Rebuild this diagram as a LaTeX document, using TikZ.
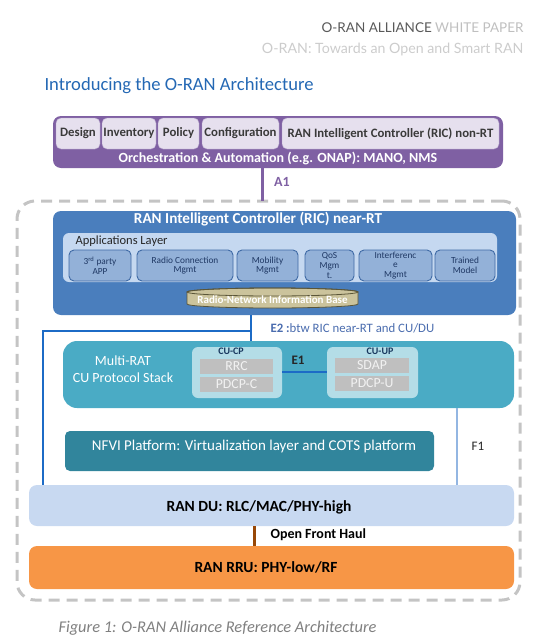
\documentclass[tikz,border=0pt]{standalone}
\usepackage{fontspec}
\setmainfont{Carlito}
\newfontfamily\hdrfont{Lato}

\definecolor{orchpurple}{HTML}{7F60A3}
\definecolor{orchlight}{HTML}{E6E0EE}
\definecolor{darktext}{HTML}{3A3A3A}
\definecolor{ricblue}{HTML}{4A7EBD}
\definecolor{applayer}{HTML}{C5D8F0}
\definecolor{appfill}{HTML}{93B1D8}
\definecolor{appedge}{HTML}{3F6AA5}
\definecolor{apptext}{HTML}{1F3864}
\definecolor{dbfill}{HTML}{CBC39C}
\definecolor{dbedge}{HTML}{5A5538}
\definecolor{e2blue}{HTML}{1C6BC6}
\definecolor{e2text}{HTML}{4A6CAE}
\definecolor{cuteal}{HTML}{4AABC5}
\definecolor{culight}{HTML}{B4DDE7}
\definecolor{cugray}{HTML}{BFBFBF}
\definecolor{cutext}{HTML}{17375E}
\definecolor{nfviteal}{HTML}{31859C}
\definecolor{f1blue}{HTML}{93B6E2}
\definecolor{dufill}{HTML}{C8D9F1}
\definecolor{fhbrown}{HTML}{984807}
\definecolor{rruorange}{HTML}{F79646}
\definecolor{dashgray}{HTML}{C4C4C4}
\definecolor{titleblue}{HTML}{2468B4}
\definecolor{capgray}{HTML}{7F7F7F}

\begin{document}
\begin{tikzpicture}[x=1pt,y=1pt,
    box/.style={anchor=north west, inner sep=0pt, outer sep=0pt, align=center},
    orchbox/.style={box, fill=orchlight, draw=orchpurple!60, rounded corners=5pt,
        minimum height=31pt, text=darktext, font=\fontsize{12.8}{14}\selectfont\bfseries},
    appbox/.style={box, fill=appfill, draw=appedge, line width=0.9pt, rounded corners=5pt,
        minimum height=31pt, text=apptext, font=\fontsize{9.3}{9.6}\selectfont},
    graybox/.style={box, fill=cugray, minimum height=15pt, text=white!95!black,
        font=\fontsize{13.8}{15}\selectfont},
    bigtext/.style={font=\fontsize{15.5}{17}\selectfont\bfseries}]
    \useasboundingbox (0,0) rectangle (538,-640);

    % Header
    \node[anchor=east, font=\hdrfont\fontsize{13.5}{15}\selectfont] (hdra) at (527,-28)
        {\textcolor{black!65}{O-RAN ALLIANCE} \textcolor{black!25}{WHITE PAPER}};
    \node[anchor=east, font=\hdrfont\fontsize{14.2}{16}\selectfont, text=black!20] (hdrb) at (527,-49)
        {O-RAN: Towards an Open and Smart RAN};
    \node[anchor=west, font=\fontsize{18.6}{20}\selectfont, text=titleblue] (title) at (41,-86)
        {Introducing the O-RAN Architecture};

    % Orchestration
    \node[box, fill=orchpurple, rounded corners=8pt, minimum width=450pt, minimum height=52pt] (orch) at (53,-116) {};
    \node[orchbox, minimum width=44pt] (design) at (56,-118) {Design};
    \node[orchbox, minimum width=54pt] (inventory) at (102,-118) {Inventory};
    \node[orchbox, minimum width=41pt] (policy) at (158,-118) {Policy};
    \node[orchbox, minimum width=77pt] (config) at (202,-118) {Configuration};
    \node[orchbox, minimum width=217pt] (ricnonrt) at (282,-118) {RAN Intelligent Controller (RIC) non-RT};
    \node[text=white, font=\fontsize{14}{16}\selectfont\bfseries] (orchlbl) at (278,-158)
        {Orchestration \& Automation (e.g. ONAP): MANO, NMS};

    % Dashed frame
    \node[box, draw=dashgray, line width=3pt, dash pattern=on 11pt off 7pt, rounded corners=18pt,
        minimum width=503pt, minimum height=399pt] (frame) at (17,-201) {};

    % A1
    \draw[orchpurple, line width=3pt] (orch.south -| 262,0) -- (frame.north -| 262,0);
    \node[text=orchpurple, font=\fontsize{14}{16}\selectfont\bfseries] (a1lbl) at (282,-182) {A1};

    % RIC near-RT
    \node[box, fill=ricblue, rounded corners=8pt, minimum width=463pt, minimum height=104pt] (ric) at (53,-211) {};
    \node[text=white, font=\fontsize{15.2}{17}\selectfont\bfseries] (riclbl) at (258,-219) {RAN Intelligent Controller (RIC) near-RT};
    \node[box, fill=applayer, rounded corners=6pt, minimum width=434pt, minimum height=49pt] (applayer) at (63,-233) {};
    \node[anchor=west, text=black!85, font=\fontsize{12.5}{14}\selectfont] (appslbl) at (72,-241) {Applications Layer};
    \node[appbox, minimum width=62pt] (app3rd) at (69,-250) {3\textsuperscript{rd} party\\APP};
    \node[appbox, minimum width=96pt] (appradio) at (137,-250) {Radio Connection\\Mgmt};
    \node[appbox, minimum width=61pt] (appmob) at (237,-250) {Mobility\\Mgmt};
    \node[appbox, minimum width=49pt] (appqos) at (305,-250) {QoS\\Mgm\\t.};
    \node[appbox, minimum width=73pt] (appinter) at (359,-250) {Interferenc\\e\\Mgmt};
    \node[appbox, minimum width=60pt] (apptrain) at (435,-250) {Trained\\Model};

    % Radio-Network Information Base
    \filldraw[fill=dbfill, draw=dbedge, line width=0.8pt] (187,-292) -- (187,-304)
        arc[start angle=180, end angle=360, x radius=85.5pt, y radius=4pt] -- (358,-292)
        arc[start angle=0, end angle=180, x radius=85.5pt, y radius=4pt] -- cycle;
    \draw[dbedge, line width=0.8pt] (272.5,-292) ellipse [x radius=85.5pt, y radius=4pt];
    \node[text=white, font=\fontsize{11}{12}\selectfont\bfseries] (rnib) at (272.5,-300) {Radio-Network Information Base};

    % CU
    \node[box, fill=cuteal, rounded corners=14pt, minimum width=451pt, minimum height=67pt] (cu) at (63,-341) {};
    \node[text=white, font=\fontsize{14}{16.5}\selectfont, align=center] (culbl) at (123,-369) {Multi-RAT\\CU Protocol Stack};
    \node[box, fill=culight, rounded corners=6pt, minimum width=90pt, minimum height=51pt] (cucp) at (192,-347) {};
    \node[box, fill=culight, rounded corners=6pt, minimum width=91pt, minimum height=51pt] (cuup) at (327,-347) {};
    \node[text=cutext, font=\fontsize{10}{12}\selectfont\bfseries] (cucplbl) at (231,-351) {CU-CP};
    \node[text=cutext, font=\fontsize{10}{12}\selectfont\bfseries] (cuuplbl) at (380,-351) {CU-UP};
    \node[graybox, minimum width=73pt] (rrc) at (200,-359) {RRC};
    \node[graybox, minimum width=73pt] (pdcpc) at (200,-377) {PDCP-C};
    \node[graybox, minimum width=74pt] (sdap) at (335,-358) {SDAP};
    \node[graybox, minimum width=74pt] (pdcpu) at (335,-376) {PDCP-U};
    \draw[e2blue, line width=2.5pt] (cucp.east |- 0,-372) -- (cuup.west |- 0,-372);
    \node[text=black!85, font=\fontsize{13}{15}\selectfont\bfseries] (e1lbl) at (298,-360) {E1};

    % E2
    \coordinate (e2j) at (251,-331);
    \draw[e2blue, line width=2.8pt] (ric.south -| e2j) -- (cu.north -| e2j);
    \node[anchor=west, text=e2text, font=\fontsize{12.8}{14}\selectfont] (e2lbl) at (267,-328)
        {\textbf{E2 :}btw RIC near-RT and CU/DU};

    % NFVI
    \node[box, fill=nfviteal, rounded corners=5pt, minimum width=369pt, minimum height=40pt] (nfvi) at (65,-431) {};
    \node[text=white, font=\fontsize{15}{17}\selectfont] (nfvilbl) at (254,-446)
        {NFVI Platform: Virtualization layer and COTS platform};

    % DU / RRU
    \node[box, fill=dufill, rounded corners=8pt, minimum width=485pt, minimum height=41pt] (du) at (29,-485) {};
    \node[bigtext] (dulbl) at (259,-507) {RAN DU: RLC/MAC/PHY-high};
    \node[box, fill=rruorange, rounded corners=8pt, minimum width=485pt, minimum height=43pt] (rru) at (29,-546) {};
    \node[bigtext] (rrulbl) at (266,-567) {RAN RRU: PHY-low/RF};

    % Interfaces to DU
    \draw[e2blue, line width=2.8pt] (e2j) -| (du.north -| 43,0);
    \draw[f1blue, line width=2.5pt] (cu.south -| 457,0) -- (du.north -| 457,0);
    \node[text=black!85, font=\fontsize{13}{15}\selectfont] (f1lbl) at (478,-446) {F1};
    \draw[fhbrown, line width=3pt] (du.south -| 254,0) -- (rru.north -| 254,0);
    \node[anchor=west, font=\fontsize{14}{16}\selectfont\bfseries] (fhlbl) at (267,-535) {Open Front Haul};

    % Caption
    \node[anchor=west, text=capgray, font=\fontsize{16.4}{18}\selectfont\itshape] (caption) at (55,-628)
        {Figure 1: O-RAN Alliance Reference Architecture};
\end{tikzpicture}
\end{document}
